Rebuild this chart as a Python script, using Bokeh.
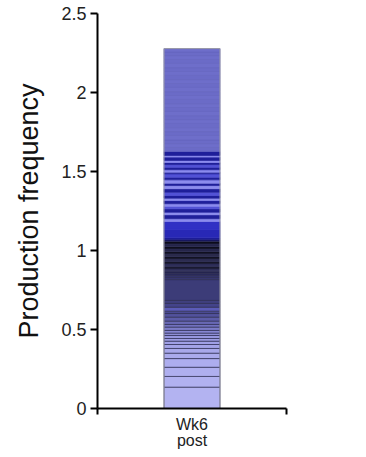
from bokeh.plotting import figure
from bokeh.models import Range1d, FixedTicker, Label
from bokeh.embed import file_html
from bokeh.resources import INLINE

# ---- data ----
category_top = "Wk6"
category_bottom = "post"
# cumulative top of each stacked clonotype segment (production frequency)
segment_tops = [0.135, 0.203, 0.261, 0.316, 0.350, 0.380, 0.405, 0.426, 0.443, 0.462,
                0.477, 0.494, 0.515, 0.532, 0.553, 0.578, 0.601, 0.616, 0.641, 0.665,
                0.684, 0.816, 0.829, 0.842, 0.854, 0.867,
                0.883, 0.899, 0.915, 0.930, 0.946, 0.962, 0.978, 0.994, 1.009, 1.025,
                1.041, 1.057, 1.068,
                1.080, 1.133, 1.184,
                1.201, 1.226, 1.242, 1.264, 1.280, 1.296, 1.316, 1.331, 1.348, 1.369,
                1.391, 1.411, 1.426, 1.447, 1.464, 1.485, 1.496, 1.511, 1.527, 1.544,
                1.557, 1.570, 1.591, 1.601, 1.627,
                1.652, 1.677, 1.699, 1.728, 1.753, 1.778, 1.804, 1.829, 1.854, 1.880,
                1.905, 1.930, 1.956, 1.981, 2.006, 2.032, 2.057, 2.082, 2.108, 2.133,
                2.158, 2.184, 2.209, 2.234, 2.256, 2.278]

D, L, M = "#1f1f9a", "#8c8cee", "#5252d6"
segment_colors = (
    ["#b3b3f1", "#b1b1f0", "#afafef", "#adadee", "#aaaaec", "#a8a8ea", "#a4a4e8",
     "#a0a0e6", "#9c9ce2", "#9696de", "#8e8ed8", "#8686d2", "#7c7cc8", "#7272c0",
     "#6868b4", "#5c5ca8", "#52529c", "#4a4a92", "#5c5cb8", "#44448a",
     "#40407e", "#3c3c78", "#383870", "#323268", "#2c2c5c", "#24244e"]
    + ["#34345e", "#1a1a30", "#30305a", "#161628", "#2c2c50", "#121222", "#2a2a4a",
       "#101020", "#26264a", "#0e0e1c", "#24244a", "#0c0c1a", "#14145a"]
    + ["#1a1a8c", "#2828b6", "#3030c4"]
    + [L, D, L, D, M, L, D, L, D, M, D, L, D, L, D, M, D, L, D, M, D, L, D, L, D]
    + ["#6b6bc7", "#6e6eca"] * 13
)
segment_edges = (["#2b2b52"] * 39 + [None] * 3 + [None] * 25 + ["#6464c0"] * 26)

y_ticks = [0, 0.5, 1, 1.5, 2, 2.5]

# ---- figure ----
p = figure(frame_width=189, frame_height=395, output_backend="svg",
           toolbar_location=None, x_range=Range1d(0, 1), y_range=Range1d(0, 2.5),
           min_border_left=97, min_border_right=80, min_border_top=13,
           min_border_bottom=30)
p.background_fill_color = "white"
p.outline_line_color = None
p.grid.visible = False

bottoms = [0] + segment_tops[:-1]
x_c, bar_w = 0.5, 0.296
p.quad(left=x_c - bar_w / 2, right=x_c + bar_w / 2, bottom=bottoms, top=segment_tops,
       fill_color=segment_colors,
       line_color=[c if c else f for c, f in zip(segment_edges, segment_colors)],
       line_width=0.7)
p.quad(left=x_c - bar_w / 2, right=x_c + bar_w / 2, bottom=0, top=segment_tops[-1],
       fill_color=None, line_color="#9a9aa8", line_width=1)

# y axis
ya = p.yaxis[0]
ya.ticker = FixedTicker(ticks=y_ticks)
ya.major_label_overrides = {0: "0", 1: "1", 2: "2"}
ya.axis_label = "Production frequency"
ya.axis_label_text_font = "Liberation Sans"
ya.axis_label_text_font_style = "normal"
ya.axis_label_text_font_size = "27px"
ya.axis_label_text_color = "#111111"
ya.axis_label_standoff = 14
ya.major_label_text_font = "Liberation Sans"
ya.major_label_text_font_size = "18px"
ya.major_label_text_color = "#222222"
ya.major_label_standoff = 4
ya.axis_line_width = 2
ya.axis_line_color = "black"
ya.major_tick_line_width = 2
ya.major_tick_out = 7
ya.major_tick_in = 0
ya.minor_tick_line_color = None

# x axis
xa = p.xaxis[0]
xa.ticker = FixedTicker(ticks=[0.5], minor_ticks=[0, 1])
xa.major_label_overrides = {0.5: category_top}
xa.major_label_text_font = "Liberation Sans"
xa.major_label_text_font_size = "16px"
xa.major_label_text_color = "#222222"
xa.major_label_standoff = 1
xa.axis_label = category_bottom
xa.axis_label_text_font = "Liberation Sans"
xa.axis_label_text_font_style = "normal"
xa.axis_label_text_font_size = "16px"
xa.axis_label_text_color = "#222222"
xa.axis_label_standoff = -4
xa.axis_line_width = 2
xa.axis_line_color = "black"
xa.major_tick_out = 0
xa.major_tick_in = 0
xa.minor_tick_out = 6
xa.minor_tick_in = 0
xa.minor_tick_line_width = 2
xa.minor_tick_line_color = "black"

# faint ghost texts from the source image
for txt, x, y in [("400", -0.206, 1.70), ("200", -0.206, 0.861), ("PRAME", 1.10, 1.804)]:
    p.add_layout(Label(x=x, y=y, text=txt, text_font="Liberation Sans",
                       text_font_size="15px", text_color="#ececf0",
                       text_baseline="middle", text_align="left"))

open("out.html", "w").write(file_html(p, INLINE))
